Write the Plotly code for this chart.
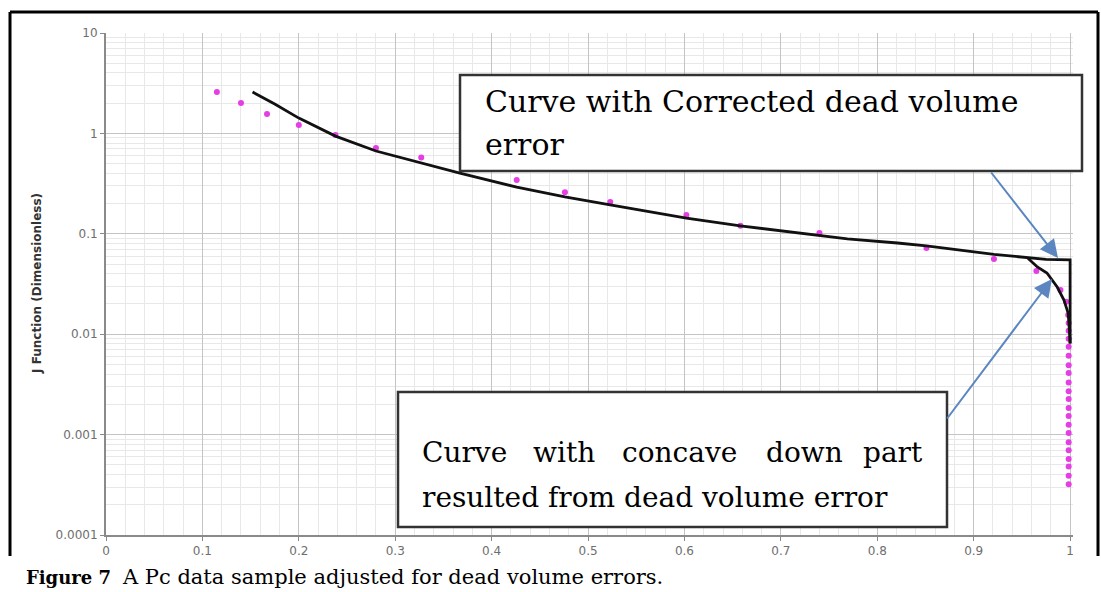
import plotly.graph_objects as go

# Measured sample points: water saturation vs J function
pts_sw = [0.115, 0.14, 0.167, 0.2, 0.238, 0.28, 0.327, 0.426, 0.476, 0.523,
          0.602, 0.658, 0.74, 0.851, 0.921, 0.965, 0.99, 0.996, 0.998, 0.9985,
          0.9985, 0.9985, 0.9985, 0.9985, 0.9985, 0.9985, 0.9985, 0.9985,
          0.9985, 0.9985, 0.9985, 0.9985, 0.9985, 0.9985, 0.9985, 0.9985,
          0.9985, 0.9985, 0.9985]
pts_j = [2.58, 2.01, 1.56, 1.21, 0.964, 0.716, 0.575, 0.343, 0.26, 0.207,
         0.154, 0.12, 0.102, 0.0722, 0.0561, 0.0426, 0.0275, 0.021, 0.0155, 0.0129,
         0.0108, 0.0090, 0.0075, 0.0061, 0.0049, 0.0041, 0.0033, 0.0027,
         0.00226, 0.00184, 0.00153, 0.00125, 0.00104, 0.00084, 0.0007, 0.00057,
         0.00048, 0.00039, 0.00032]

# Curve with corrected dead volume error
corr_sw = [0.152, 0.175, 0.2, 0.238, 0.28, 0.327, 0.366, 0.426, 0.476, 0.523,
           0.602, 0.658, 0.74, 0.769, 0.821, 0.851, 0.921, 0.956, 0.975, 1.0, 1.0]
corr_j = [2.58, 1.96, 1.42, 0.94, 0.668, 0.507, 0.404, 0.292, 0.233, 0.194,
          0.1435, 0.12, 0.097, 0.089, 0.081, 0.076, 0.0625, 0.0575, 0.0555, 0.055, 0.0081]

# Concave-down tail caused by the dead volume error
tail_sw = [0.956, 0.966, 0.976, 0.9866, 0.9935, 0.998, 0.9995, 1.0]
tail_j = [0.0575, 0.0468, 0.0407, 0.0295, 0.022, 0.0162, 0.0102, 0.0081]

x_ticks = [0, 0.1, 0.2, 0.3, 0.4, 0.5, 0.6, 0.7, 0.8, 0.9, 1]
x_labels = ["0", "0.1", "0.2", "0.3", "0.4", "0.5", "0.6", "0.7", "0.8", "0.9", "1"]
y_ticks = [0.0001, 0.001, 0.01, 0.1, 1, 10]
y_labels = ["0.0001", "0.001", "0.01", "0.1", "1", "10"]

W, H = 1101, 592
L, R, T, B = 106, 1073, 33, 535


def px(x):
    return (x - L) / (R - L)


def py(y):
    return (B - y) / (B - T)


fig = go.Figure()
fig.add_trace(go.Scatter(x=pts_sw, y=pts_j, mode="markers",
                         marker=dict(color="#e43ee4", size=6, symbol="circle"),
                         showlegend=False, cliponaxis=False))
fig.add_trace(go.Scatter(x=corr_sw, y=corr_j, mode="lines",
                         line=dict(color="#111111", width=2.8), showlegend=False))
fig.add_trace(go.Scatter(x=tail_sw, y=tail_j, mode="lines",
                         line=dict(color="#111111", width=2.8), showlegend=False))

minor_y = [k * 10.0 ** e for e in range(-4, 1) for k in range(2, 10)]

fig.update_xaxes(range=[0, 1.003], tickmode="array", tickvals=x_ticks, ticktext=x_labels,
                 showline=True, linecolor="#8a8a8a", linewidth=2,
                 ticks="outside", ticklen=4, tickcolor="#8a8a8a",
                 showgrid=True, gridcolor="#c4c4c4", gridwidth=1.4, zeroline=False,
                 tickfont=dict(family="DejaVu Sans", size=12, color="#6e6e6e"),
                 minor=dict(dtick=0.02, tick0=0, showgrid=True, gridcolor="#e8e8e8", gridwidth=1))
fig.update_yaxes(type="log", range=[-4, 1], tickmode="array", tickvals=y_ticks, ticktext=y_labels,
                 showline=True, linecolor="#8a8a8a", linewidth=2,
                 ticks="outside", ticklen=4, tickcolor="#8a8a8a",
                 showgrid=True, gridcolor="#c4c4c4", gridwidth=1.4, zeroline=False,
                 tickfont=dict(family="DejaVu Sans", size=12, color="#6e6e6e"),
                 minor=dict(tickmode="array", tickvals=minor_y, showgrid=True,
                            gridcolor="#e8e8e8", gridwidth=1))

shapes = []
# figure frame (open at the bottom)
for x0, y0, x1, y1 in [(10, 12, 10, 556), (10, 12, 1098, 12), (1098, 12, 1098, 556)]:
    shapes.append(dict(type="line", xref="paper", yref="paper",
                       x0=px(x0), y0=py(y0), x1=px(x1), y1=py(y1),
                       line=dict(color="black", width=3)))
# callout boxes
for x0, y0, x1, y1 in [(460, 75, 1082, 171), (398, 392, 947, 527)]:
    shapes.append(dict(type="rect", xref="paper", yref="paper", layer="above",
                       x0=px(x0), y0=py(y0), x1=px(x1), y1=py(y1),
                       fillcolor="white", line=dict(color="#333333", width=2.5)))

serif = dict(family="DejaVu Serif", size=28, color="black")
ann = []


def txt(x, y, s, anchor="left", font=serif):
    ann.append(dict(xref="paper", yref="paper", x=px(x), y=py(y), text=s,
                    showarrow=False, xanchor=anchor, yanchor="middle", font=font))


top_font = dict(family="DejaVu Serif", size=30, color="black")
txt(483, 101, "Curve with Corrected dead volume", font=top_font)
txt(483, 144, "error", font=top_font)
# justified first line of the lower callout
txt(420, 452, "Curve")
txt(531, 452, "with")
txt(620, 452, "concave")
txt(764, 452, "down")
txt(925, 452, "part", "right")
txt(420, 497, "resulted from dead volume error")

# y-axis title
ann.append(dict(xref="paper", yref="paper", x=px(37), y=py(284), text="<b>J Function (Dimensionless)</b>",
                showarrow=False, textangle=-90, xanchor="center", yanchor="middle",
                font=dict(family="DejaVu Sans", size=12, color="#333333")))

# caption
txt(24, 577, "<b>Figure 7</b>", font=dict(family="DejaVu Serif", size=18, color="black"))
txt(120, 577, "A Pc data sample adjusted for dead volume errors.",
    font=dict(family="DejaVu Serif", size=21, color="black"))

# arrows to the curves
for tx, ty, sx, sy in [(1058, 258, 990, 171), (1052, 279, 946, 420)]:
    ann.append(dict(xref="paper", yref="paper", x=px(tx), y=py(ty), text="",
                    showarrow=True, ax=sx - tx, ay=sy - ty, arrowhead=2, arrowsize=1.8,
                    arrowwidth=2, arrowcolor="#5b86c0", standoff=0, startstandoff=0))

fig.update_layout(width=W, height=H, autosize=False,
                  margin=dict(l=L, r=W - R, t=T, b=H - B),
                  paper_bgcolor="white", plot_bgcolor="white",
                  shapes=shapes, annotations=ann, showlegend=False)

fig.write_html("out.html")
